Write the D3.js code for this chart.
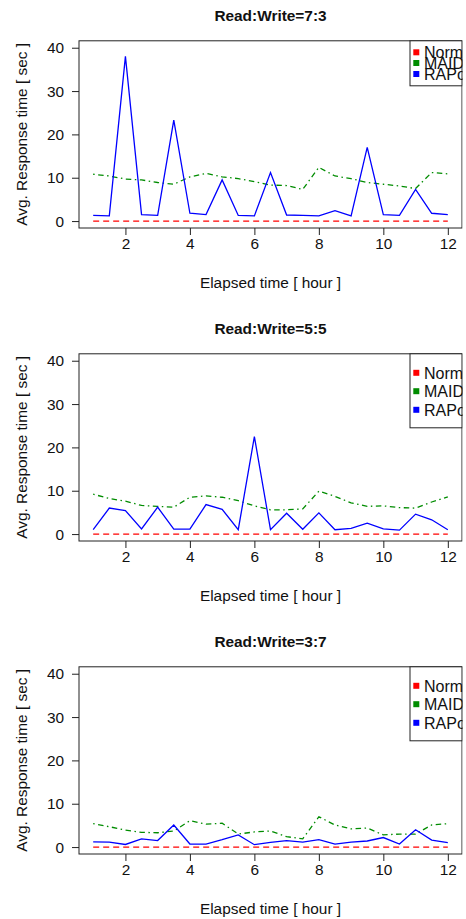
<!DOCTYPE html>
<html>
<head>
<meta charset="utf-8">
<script src="https://cdn.jsdelivr.net/npm/d3@7/dist/d3.min.js"></script>
<style>
  body { margin: 0; background: #fff; }
  text { font-family: "Liberation Sans", Arial, Helvetica, sans-serif; fill: #111; }
</style>
</head>
<body>
<div id="chart"></div>
<script>
// elapsed time in hours, sampled every half hour
const hours = d3.range(23).map(i => 1 + i * 0.5);

const titles = ['Read:Write=7:3', 'Read:Write=5:5', 'Read:Write=3:7'];
const seriesNames = ['Normal', 'MAID', 'RAPoSDA'];

const normal73 = [0,0,0,0,0,0,0,0,0,0,0,0,0,0,0,0,0,0,0,0,0,0,0];
const maid73 = [10.8,10.4,9.7,9.5,8.9,8.5,10.2,11,10.2,9.8,9.1,8.3,8.2,7.3,12.4,10.4,9.8,8.9,8.5,8.1,7.5,11.2,10.9];
const rapo73 = [1.3,1.2,38,1.5,1.3,23.3,1.8,1.5,9.5,1.3,1.2,11.2,1.4,1.3,1.2,2.4,1.2,17,1.5,1.3,7.3,1.8,1.5];

const normal55 = [0,0,0,0,0,0,0,0,0,0,0,0,0,0,0,0,0,0,0,0,0,0,0];
const maid55 = [9.2,8.2,7.6,6.6,6.4,6.2,8.5,8.8,8.5,7.7,6.5,5.6,5.6,5.8,9.9,8.7,7.2,6.4,6.5,6.1,6.0,7.4,8.6];
const rapo55 = [1.0,6.0,5.4,1.2,6.2,1.15,1.15,6.8,5.7,1.0,22.5,1.0,4.8,1.1,4.9,1.0,1.3,2.5,1.2,0.9,4.6,3.3,1.0];

const normal37 = [0,0,0,0,0,0,0,0,0,0,0,0,0,0,0,0,0,0,0,0,0,0,0];
const maid37 = [5.4,4.7,3.9,3.4,3.3,3.7,6.1,5.3,5.5,3.0,3.5,3.7,2.4,1.9,7.0,5.1,4.2,4.4,2.8,3.0,3.0,5.1,5.4];
const rapo37 = [1.2,1.15,0.6,1.9,1.5,5.1,0.7,0.7,1.7,2.8,0.55,1.1,1.5,1.15,1.7,0.7,1.15,1.4,2.2,0.7,4.0,1.6,1.0];

const xTicks = [2, 4, 6, 8, 10, 12];
const yTicks = [0, 10, 20, 30, 40];

const panels = [
    { title: titles[0], series: [normal73, maid73, rapo73] },
    { title: titles[1], series: [normal55, maid55, rapo55] },
    { title: titles[2], series: [normal37, maid37, rapo37] }
];

const W = 466, H = 919;
const panelTops = [0, 313, 626];
const plot = { left: 79, right: 462, top: 40.8, bottom: 228 };
const colors = ['#ff0000', '#008c00', '#0000ff'];
const dashes = ['6,4', '1.5,3.5,5.5,3.5', null];
// legend row spacing: the first panel is squeezed
const legendRows = [[11.5, 22.2, 33.2], [19, 37.4, 56], [19, 37.4, 56]];
const legendHeights = [45, 74, 74];

const svg = d3.select('#chart').append('svg')
    .attr('width', W)
    .attr('height', H);

svg.append('rect').attr('width', W).attr('height', H).attr('fill', '#fff');

svg.append('defs').append('clipPath')
    .attr('id', 'rightClip')
    .append('rect')
    .attr('x', 0).attr('y', 0)
    .attr('width', plot.right + 0.5).attr('height', H);

const xScale = d3.scaleLinear().domain([0.56, 12.44]).range([plot.left, plot.right]);
const yScale = d3.scaleLinear().domain([-1.6, 41.6]).range([plot.bottom, plot.top]);

panels.forEach((p, i) => {
    const g = svg.append('g')
        .attr('transform', `translate(0,${panelTops[i]})`)
        .attr('clip-path', 'url(#rightClip)');

    g.append('text')
        .attr('x', (plot.left + plot.right) / 2)
        .attr('y', 21)
        .attr('text-anchor', 'middle')
        .style('font-size', '15.4px')
        .style('font-weight', 'bold')
        .text(p.title);

    const line = d3.line()
        .x((d, j) => xScale(hours[j]))
        .y(d => yScale(d));

    p.series.forEach((s, k) => {
        g.append('path')
            .datum(s)
            .attr('d', line)
            .attr('fill', 'none')
            .attr('stroke', colors[k])
            .attr('stroke-width', 1.3)
            .attr('stroke-dasharray', dashes[k]);
    });

    const xAxis = d3.axisBottom(xScale)
        .tickValues(xTicks)
        .tickSize(7)
        .tickPadding(3)
        .tickSizeOuter(0);

    const xa = g.append('g')
        .attr('transform', `translate(0,${plot.bottom})`)
        .call(xAxis);
    xa.select('.domain').remove();
    xa.selectAll('text').style('font-size', '15.4px').attr('fill', '#111');
    xa.selectAll('line').attr('stroke', '#222');

    const yAxis = d3.axisLeft(yScale)
        .tickValues(yTicks)
        .tickSize(7)
        .tickPadding(8)
        .tickSizeOuter(0);

    const ya = g.append('g')
        .attr('transform', `translate(${plot.left},0)`)
        .call(yAxis);
    ya.select('.domain').remove();
    ya.selectAll('text').style('font-size', '15.4px').attr('fill', '#111');
    ya.selectAll('line').attr('stroke', '#222');

    g.append('rect')
        .attr('x', plot.left)
        .attr('y', plot.top)
        .attr('width', plot.right - plot.left)
        .attr('height', plot.bottom - plot.top)
        .attr('fill', 'none')
        .attr('stroke', '#222')
        .attr('stroke-width', 1);

    g.append('text')
        .attr('x', (plot.left + plot.right) / 2)
        .attr('y', 288)
        .attr('text-anchor', 'middle')
        .style('font-size', '15.4px')
        .text('Elapsed time [ hour ]');

    g.append('text')
        .attr('transform', 'rotate(-90)')
        .attr('x', -(plot.top + plot.bottom) / 2)
        .attr('y', 26.5)
        .attr('text-anchor', 'middle')
        .style('font-size', '15.4px')
        .text('Avg. Response time [ sec ]');

    const legend = g.append('g')
        .attr('transform', `translate(410,${plot.top})`);

    legend.append('rect')
        .attr('width', plot.right - 410)
        .attr('height', legendHeights[i])
        .attr('fill', '#fff')
        .attr('stroke', '#222');

    seriesNames.forEach((name, k) => {
        const row = legend.append('g')
            .attr('transform', `translate(0,${legendRows[i][k]})`);
        row.append('rect')
            .attr('x', 3.3)
            .attr('y', -3)
            .attr('width', 6)
            .attr('height', 6)
            .attr('fill', colors[k]);
        row.append('text')
            .attr('x', 14)
            .attr('dy', '0.36em')
            .style('font-size', '16px')
            .text(name);
    });
});
</script>
</body>
</html>
